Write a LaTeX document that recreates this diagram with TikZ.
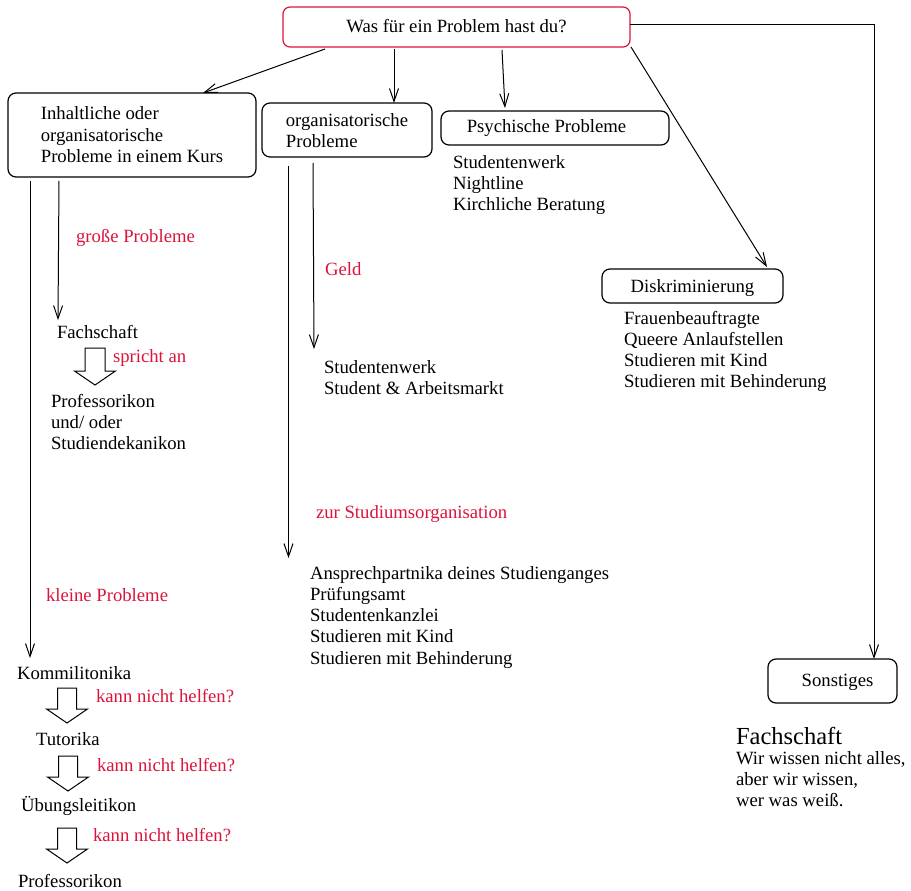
\documentclass[tikz,border=0pt]{standalone}
\usepackage{fontspec}
\setmainfont{Liberation Serif}
\usetikzlibrary{arrows.meta}
\definecolor{rd}{RGB}{220,20,60}
\newcommand{\ml}[1]{\begin{tabular}[t]{@{}l@{}}#1\end{tabular}}
\newcommand{\blockarr}[6]{%
  \draw[line width=1pt,fill=white] (#1-#3,#2) -- (#1+#3,#2) -- (#1+#3,#2+#4) -- (#1+#5,#2+#4) -- (#1,#2+#6) -- (#1-#5,#2+#4) -- (#1-#3,#2+#4) -- cycle;}
\begin{document}
\begin{tikzpicture}[x=1pt,y=-1pt,
  every node/.style={font=\fontsize{18.7}{21.3}\selectfont, inner sep=0pt, outer sep=0pt},
  box/.style={draw, rounded corners=8pt, line width=1.2pt},
  txt/.style={anchor=base west},
  lbl/.style={anchor=base west, text=rd},
  conn/.style={line width=1pt, -{Straight Barb[length=13pt,width=9pt]}}]
\useasboundingbox (0,0) rectangle (911,891);

% boxes
\node[box, draw=rd, rounded corners=7pt, minimum width=347pt, minimum height=40pt, text height=12pt, text depth=0pt] (top) at (456.5,27) {\ml{Was für ein Problem hast du?}};
\node[box, minimum width=248pt, minimum height=84pt, text height=0pt, text depth=30pt] (b1) at (132,135) {\ml{Inhaltliche oder\\organisatorische\\Probleme in einem Kurs}};
\node[box, minimum width=170pt, minimum height=54pt, text height=0pt, text depth=8pt] (b2) at (347,130) {\ml{organisatorische\\Probleme}};
\node[box, minimum width=228pt, minimum height=34pt, text height=8pt, text depth=0pt] (b3) at (555,128) {\ml{Psychische Probleme\hspace*{17pt}}};
\node[box, minimum width=181pt, minimum height=34pt, text height=12pt, text depth=0pt] (b4) at (692.5,286) {\ml{Diskriminierung}};
\node[box, minimum width=129pt, minimum height=44pt, text height=10pt, text depth=0pt] (b5) at (832.5,681) {\ml{\hspace*{10pt}Sonstiges}};

% text blocks
\node[txt] (psy) at (453,168) {\ml{Studentenwerk\\Nightline\\Kirchliche Beratung}};
\node[txt] (dis) at (624,324) {\ml{Frauenbeauftragte\\Queere Anlaufstellen\\Studieren mit Kind\\Studieren mit Behinderung}};
\node[txt] (sw) at (324,373) {\ml{Studentenwerk\\Student \& Arbeitsmarkt}};
\node[txt] (ans) at (310,579) {\ml{Ansprechpartnika deines Studienganges\\Prüfungsamt\\Studentenkanzlei\\Studieren mit Kind\\Studieren mit Behinderung}};
\node[txt] (fs) at (57,338) {\ml{Fachschaft}};
\node[txt] (prof1) at (51,407) {\ml{Professorikon\\und/ oder\\Studiendekanikon}};
\node[txt] (kom) at (17,679) {\ml{Kommilitonika}};
\node[txt] (tut) at (36,745) {\ml{Tutorika}};
\node[txt] (ueb) at (21,811) {\ml{Übungsleitikon}};
\node[txt] (prof2) at (18,887) {\ml{Professorikon}};
\node[txt, font=\fontsize{24.5}{28}\selectfont] (fsbig) at (736,744) {Fachschaft};
\node[txt] (motto) at (736,764) {\ml{Wir wissen nicht alles,\\aber wir wissen,\\wer was weiß.}};

% red labels
\node[lbl] (lgross) at (76,242) {große Probleme};
\node[lbl] (lklein) at (46,601) {kleine Probleme};
\node[lbl] (lgeld) at (325,275) {Geld};
\node[lbl] (lorg) at (316,518) {zur Studiumsorganisation};
\node[lbl] (lspr) at (113,362) {spricht an};
\node[lbl] (lk1) at (96,702) {kann nicht helfen?};
\node[lbl] (lk2) at (97,771) {kann nicht helfen?};
\node[lbl] (lk3) at (93,841) {kann nicht helfen?};

% connectors from the question
\draw[conn] ([xshift=-131.5pt,yshift=-2pt]top.south) -- ([xshift=71pt]b1.north);
\draw[conn] ([xshift=-62.5pt,yshift=-2pt]top.south) -- ([xshift=47pt]b2.north);
\draw[conn] ([xshift=45.5pt,yshift=-3pt]top.south) -- ([xshift=-50pt,yshift=3pt]b3.north);
\draw[conn] ([xshift=1pt]top.south east) -- ([xshift=-16pt,yshift=2pt]b4.north east);
\draw[conn] ([yshift=2pt]top.east) -| ([xshift=41.5pt]b5.north);

% connectors from the boxes
\draw[conn] ([xshift=-102pt,yshift=-4pt]b1.south) -- ([xshift=13pt,yshift=6pt]kom.north west);
\draw[conn] ([xshift=-73pt,yshift=-4pt]b1.south) -- ([xshift=1pt,yshift=3pt]fs.north west);
\draw[conn] ([xshift=-58.5pt,yshift=-9pt]b2.south) -- ([xshift=-21.5pt,yshift=6pt]ans.north west);
\draw[conn] ([xshift=-34pt,yshift=-6pt]b2.south) -- ([xshift=-10pt,yshift=9pt]sw.north west);

% block arrows
\blockarr{95}{348}{10}{23}{20.5}{37}
\blockarr{67}{688}{9.5}{21}{20.5}{35}
\blockarr{68}{756}{9.5}{21}{20.5}{35}
\blockarr{67}{828}{9.5}{21}{20.5}{35}
\end{tikzpicture}
\end{document}
